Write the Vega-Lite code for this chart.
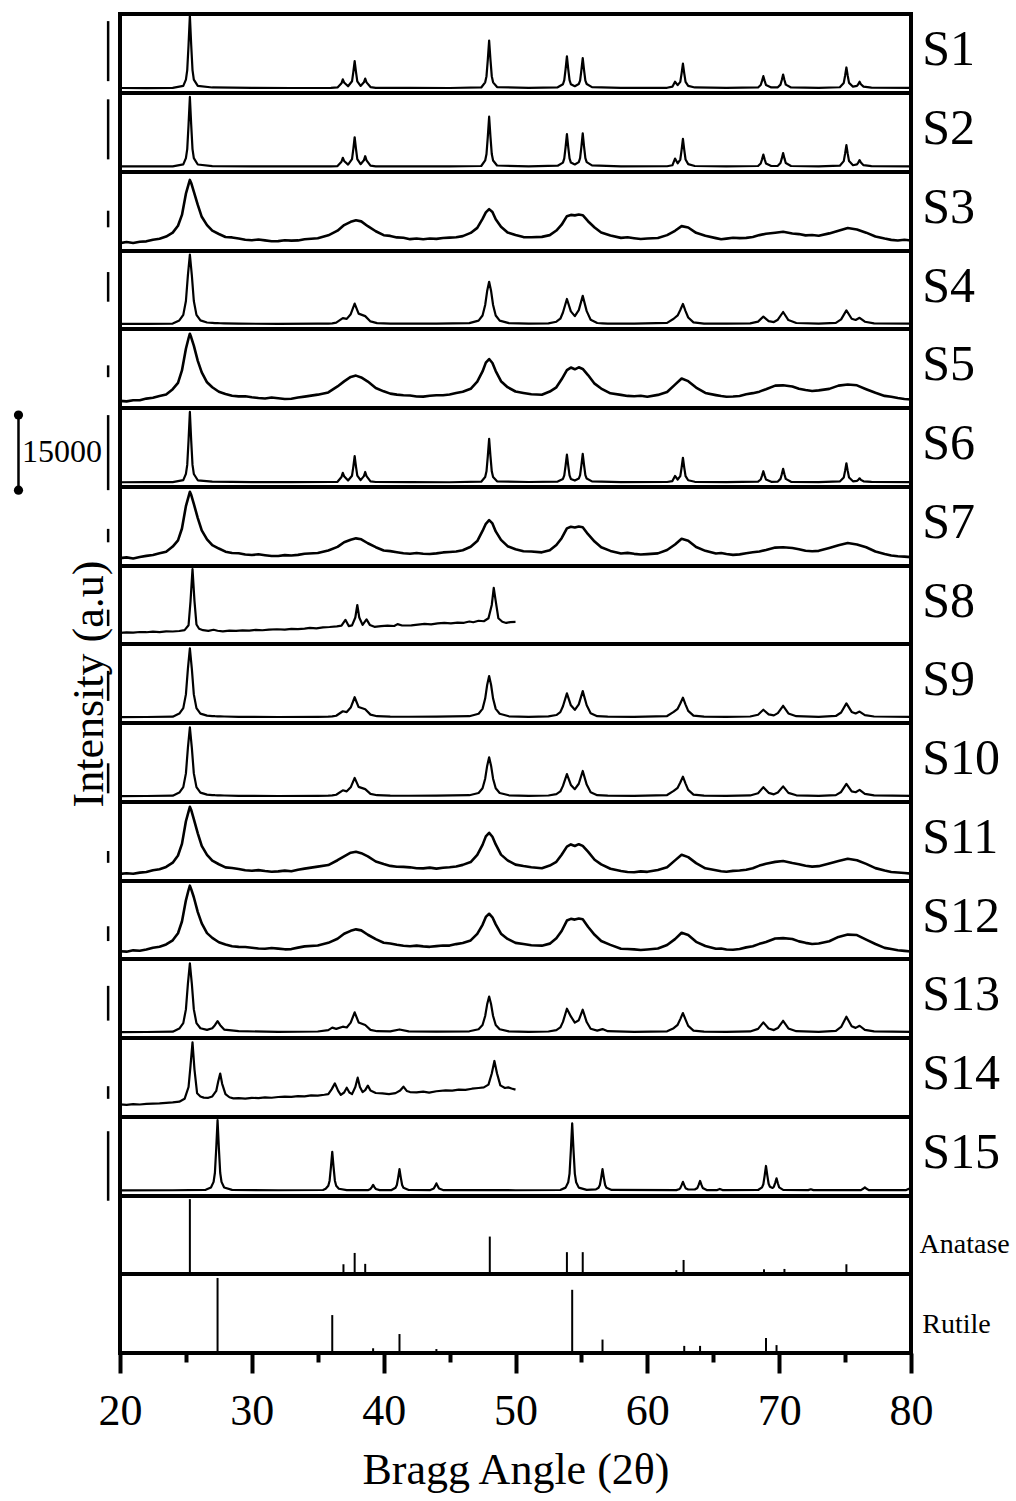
{
  "$schema": "https://vega.github.io/schema/vega-lite/v6.json",
  "padding": {"left": 11, "top": 12, "right": 0, "bottom": 0},
  "bounds": "flush",
  "spacing": 0,
  "datasets": {
    "sharp": [
      {"x":20,"S1":6.3,"S2":7,"S6":6},{"x":22,"S1":6.2,"S2":7.1,"S6":6.1},{"x":24,"S1":6.4,"S2":7.2,"S6":6.2},
      {"x":24.8,"S1":9,"S2":9.6,"S6":8.7},{"x":25.0,"S1":17,"S2":17.6,"S6":16.7},{"x":25.1,"S1":29,"S2":29,"S6":28},
      {"x":25.2,"S1":61,"S2":60,"S6":59},{"x":25.3,"S1":98,"S2":95,"S6":95},{"x":25.4,"S1":61,"S2":60,"S6":59},
      {"x":25.5,"S1":29,"S2":29,"S6":28},{"x":25.6,"S1":17,"S2":17.5,"S6":16.5},{"x":25.9,"S1":9,"S2":9.5,"S6":8.5},
      {"x":27,"S1":7,"S2":7.5,"S6":6.8},{"x":30,"S1":6.5,"S2":7.1,"S6":6.2},{"x":33,"S1":6.3,"S2":7,"S6":6.1},
      {"x":36,"S1":6.5,"S2":7.2,"S6":6.3},{"x":36.5,"S1":7,"S2":7.5,"S6":6.6},{"x":36.8,"S1":12.3,"S2":13,"S6":12.6},
      {"x":36.9,"S1":17.3,"S2":18,"S6":18},{"x":37.0,"S1":13.3,"S2":14,"S6":13.6},{"x":37.3,"S1":8.5,"S2":9.4,"S6":8.2},
      {"x":37.6,"S1":14.8,"S2":16.3,"S6":14.3},{"x":37.7,"S1":26.7,"S2":29.2,"S6":25.8},{"x":37.8,"S1":40.3,"S2":44,"S6":39},
      {"x":37.9,"S1":26.7,"S2":29.2,"S6":25.8},{"x":38.0,"S1":14.8,"S2":16.3,"S6":14.3},{"x":38.25,"S1":9,"S2":9.9,"S6":8.7},
      {"x":38.5,"S1":13.5,"S2":14.8,"S6":13.8},{"x":38.6,"S1":18.3,"S2":20,"S6":19},{"x":38.7,"S1":13.5,"S2":14.8,"S6":13.8},
      {"x":39.0,"S1":7.5,"S2":8,"S6":7.2},{"x":39.4,"S1":6.6,"S2":7.2,"S6":6.3},{"x":42,"S1":6.4,"S2":7,"S6":6.1},
      {"x":45,"S1":6.3,"S2":7,"S6":6},{"x":47.4,"S1":7,"S2":7.6,"S6":6.7},{"x":47.7,"S1":13.5,"S2":14.6,"S6":12.6},
      {"x":47.8,"S1":21.3,"S2":22.8,"S6":19.8},{"x":47.9,"S1":42.3,"S2":44.8,"S6":39},{"x":48.0,"S1":66.3,"S2":70,"S6":61},
      {"x":48.1,"S1":42.3,"S2":44.8,"S6":39},{"x":48.2,"S1":21.3,"S2":22.8,"S6":19.8},{"x":48.3,"S1":13.5,"S2":14.6,"S6":12.6},
      {"x":48.6,"S1":7.5,"S2":8.2,"S6":7.2},{"x":51,"S1":6.5,"S2":7.2,"S6":6.3},{"x":53.2,"S1":7.2,"S2":8,"S6":6.9},
      {"x":53.6,"S1":11.1,"S2":11.9,"S6":10.2},{"x":53.7,"S1":16.3,"S2":17.3,"S6":14.8},{"x":53.8,"S1":30.3,"S2":31.6,"S6":27},
      {"x":53.9,"S1":46.3,"S2":48,"S6":41},{"x":54.0,"S1":30.3,"S2":31.6,"S6":27},{"x":54.1,"S1":16.3,"S2":17.3,"S6":14.8},
      {"x":54.2,"S1":11.1,"S2":11.9,"S6":10.2},{"x":54.5,"S1":8.6,"S2":9.5,"S6":8.2},{"x":54.8,"S1":11.4,"S2":12.5,"S6":10.7},
      {"x":54.9,"S1":15.8,"S2":17.5,"S6":15},{"x":55.0,"S1":29.1,"S2":32.2,"S6":27.6},{"x":55.1,"S1":44.3,"S2":49,"S6":42},
      {"x":55.2,"S1":29.1,"S2":32.2,"S6":27.6},{"x":55.3,"S1":15.8,"S2":17.5,"S6":15},{"x":55.4,"S1":11.4,"S2":12.5,"S6":10.7},
      {"x":55.8,"S1":7.5,"S2":8.3,"S6":7.1},{"x":58,"S1":6.5,"S2":7.2,"S6":6.2},{"x":61.5,"S1":6.6,"S2":7.3,"S6":6.3},
      {"x":61.9,"S1":8,"S2":8.5,"S6":7.5},{"x":62.1,"S1":14.3,"S2":17,"S6":14},{"x":62.3,"S1":10,"S2":11,"S6":9.5},
      {"x":62.5,"S1":14.1,"S2":15.8,"S6":13.8},{"x":62.6,"S1":24.9,"S2":28,"S6":24.6},{"x":62.7,"S1":37.3,"S2":42,"S6":37},
      {"x":62.8,"S1":24.9,"S2":28,"S6":24.6},{"x":62.9,"S1":14.1,"S2":15.8,"S6":13.8},{"x":63.1,"S1":9,"S2":10,"S6":8.5},
      {"x":63.6,"S1":7,"S2":7.6,"S6":6.6},{"x":66,"S1":6.5,"S2":7.2,"S6":6.2},{"x":68.4,"S1":7,"S2":7.6,"S6":6.7},
      {"x":68.6,"S1":10.1,"S2":10.8,"S6":9.5},{"x":68.7,"S1":15.3,"S2":16,"S6":14.4},{"x":68.8,"S1":21.3,"S2":22,"S6":20},
      {"x":68.9,"S1":15.3,"S2":16,"S6":14.4},{"x":69.0,"S1":10.1,"S2":10.8,"S6":9.5},{"x":69.4,"S1":7,"S2":7.6,"S6":6.6},
      {"x":69.9,"S1":7.2,"S2":7.8,"S6":6.9},{"x":70.1,"S1":10.6,"S2":11.3,"S6":10.3},{"x":70.2,"S1":16.5,"S2":17.2,"S6":16.2},
      {"x":70.3,"S1":23.3,"S2":24,"S6":23},{"x":70.4,"S1":16.5,"S2":17.2,"S6":16.2},{"x":70.5,"S1":10.6,"S2":11.3,"S6":10.3},
      {"x":70.9,"S1":7,"S2":7.6,"S6":6.6},{"x":73,"S1":6.5,"S2":7.2,"S6":6.2},{"x":74.6,"S1":7.3,"S2":8,"S6":7},
      {"x":74.9,"S1":12.8,"S2":13.8,"S6":12},{"x":75.0,"S1":21.9,"S2":23.2,"S6":20.4},{"x":75.1,"S1":32.3,"S2":34,"S6":30},
      {"x":75.2,"S1":21.9,"S2":23.2,"S6":20.4},{"x":75.3,"S1":12.8,"S2":13.8,"S6":12},{"x":75.6,"S1":8,"S2":8.6,"S6":7.2},
      {"x":75.9,"S1":9,"S2":9.6,"S6":7.8},{"x":76.0,"S1":11.1,"S2":12,"S6":9},{"x":76.1,"S1":14.3,"S2":15,"S6":11},
      {"x":76.2,"S1":11.1,"S2":12,"S6":9},{"x":76.4,"S1":8,"S2":8.6,"S6":7.2},{"x":77,"S1":6.8,"S2":7.4,"S6":6.4},
      {"x":80,"S1":6.4,"S2":7.1,"S6":6.2}
    ],
    "medium": [
      {"x":20,"S4":6.5,"S9":7.5,"S10":7.5,"S13":7.5},{"x":22,"S4":6.6,"S9":7.6,"S10":7.6,"S13":7.6},
      {"x":24,"S4":7,"S9":8,"S10":8,"S13":8},{"x":24.5,"S4":11,"S9":11.9,"S10":11.9,"S13":11.9},
      {"x":24.8,"S4":18.1,"S9":18.8,"S10":18.8,"S13":18.8},{"x":25.0,"S4":35.9,"S9":36.2,"S10":36.2,"S13":36.2},
      {"x":25.15,"S4":68.8,"S9":68.5,"S10":68.5,"S13":68.5},{"x":25.3,"S4":95.5,"S9":94.5,"S10":94.5,"S13":94.5},
      {"x":25.45,"S4":68.8,"S9":68.5,"S10":68.5,"S13":68.5},{"x":25.6,"S4":35.9,"S9":36.2,"S10":36.2,"S13":36.2},
      {"x":25.8,"S4":18.1,"S9":18.8,"S10":18.8,"S13":18.8},{"x":26.1,"S4":11,"S9":11.9,"S10":11.9,"S13":12.3},
      {"x":26.6,"S4":8.3,"S9":9.3,"S10":9.3,"S13":10.3},{"x":27.0,"S4":7.8,"S9":8.8,"S10":8.8,"S13":12.4},
      {"x":27.2,"S4":7.6,"S9":8.6,"S10":8.6,"S13":16.2},{"x":27.4,"S4":7.5,"S9":8.5,"S10":8.5,"S13":21.3},
      {"x":27.6,"S4":7.4,"S9":8.4,"S10":8.4,"S13":16.2},{"x":27.9,"S4":7.2,"S9":8.2,"S10":8.2,"S13":10.7},
      {"x":29,"S4":6.8,"S9":7.8,"S10":7.8,"S13":8.6},{"x":32,"S4":6.6,"S9":7.6,"S10":7.6,"S13":7.8},
      {"x":35,"S4":6.8,"S9":7.8,"S10":7.8,"S13":8.2},{"x":35.8,"S4":7,"S9":8,"S10":8,"S13":10},
      {"x":36.1,"S4":7.3,"S9":8.3,"S10":8.3,"S13":13.1},{"x":36.4,"S4":8.2,"S9":9.2,"S10":9.2,"S13":11.5},
      {"x":36.9,"S4":14,"S9":14.9,"S10":14.8,"S13":14.3},{"x":37.2,"S4":13,"S9":13.8,"S10":13.5,"S13":13.3},
      {"x":37.5,"S4":19,"S9":19.5,"S10":18.6,"S13":19.4},{"x":37.8,"S4":32.6,"S9":32.6,"S10":30.5,"S13":32.5},
      {"x":38.1,"S4":19.7,"S9":20.2,"S10":19.1,"S13":19.7},{"x":38.6,"S4":16.5,"S9":17.4,"S10":16.3,"S13":16.4},
      {"x":39.0,"S4":9.7,"S9":10.6,"S10":10.3,"S13":10.3},{"x":39.5,"S4":7.6,"S9":8.6,"S10":8.6,"S13":8.6},
      {"x":40.5,"S4":7,"S9":8,"S10":8,"S13":8.3},{"x":41.2,"S4":6.9,"S9":7.9,"S10":7.9,"S13":10.8},
      {"x":41.9,"S4":6.9,"S9":7.9,"S10":7.9,"S13":8.3},{"x":44,"S4":7,"S9":8,"S10":8,"S13":8},
      {"x":46.5,"S4":7.6,"S9":8.6,"S10":8.6,"S13":8.5},{"x":47.2,"S4":10.8,"S9":11.7,"S10":11.4,"S13":11.1},
      {"x":47.5,"S4":17.3,"S9":17.9,"S10":17.3,"S13":16.5},{"x":47.7,"S4":30.8,"S9":30.9,"S10":29.5,"S13":27.8},
      {"x":47.85,"S4":48.6,"S9":48.1,"S10":45.7,"S13":42.6},{"x":48.0,"S4":60.5,"S9":59.5,"S10":56.5,"S13":52.5},
      {"x":48.15,"S4":48.6,"S9":48.1,"S10":45.7,"S13":42.6},{"x":48.3,"S4":30.8,"S9":30.9,"S10":29.5,"S13":27.8},
      {"x":48.5,"S4":17.3,"S9":17.9,"S10":17.3,"S13":16.5},{"x":48.8,"S4":10.8,"S9":11.7,"S10":11.4,"S13":11.1},
      {"x":49.5,"S4":7.5,"S9":8.5,"S10":8.5,"S13":8.4},{"x":51,"S4":6.8,"S9":7.8,"S10":7.8,"S13":7.8},
      {"x":52.5,"S4":7.3,"S9":8.3,"S10":8.2,"S13":8.2},{"x":53.1,"S4":9.3,"S9":10.1,"S10":10,"S13":10},
      {"x":53.4,"S4":13.2,"S9":13.8,"S10":13.4,"S13":13.4},{"x":53.6,"S4":21.2,"S9":21.2,"S10":20.4,"S13":20.4},
      {"x":53.9,"S4":38.5,"S9":37.5,"S10":35.4,"S13":37.1},{"x":54.2,"S4":22.6,"S9":22.4,"S10":21.6,"S13":27.3},
      {"x":54.5,"S4":16.5,"S9":16.7,"S10":16.2,"S13":19.5},{"x":54.8,"S4":24.2,"S9":23.6,"S10":23.1,"S13":22.5},
      {"x":55.1,"S4":42.5,"S9":40.4,"S10":39.3,"S13":35.8},{"x":55.4,"S4":22.9,"S9":22.4,"S10":22,"S13":20.2},
      {"x":55.7,"S4":11.8,"S9":12.3,"S10":12.2,"S13":11.7},{"x":56.2,"S4":7.7,"S9":8.6,"S10":8.6,"S13":9.4},
      {"x":56.6,"S4":7.3,"S9":8.3,"S10":8.3,"S13":11.3},{"x":57,"S4":7,"S9":8,"S10":8,"S13":8.6},
      {"x":59,"S4":6.8,"S9":7.8,"S10":7.8,"S13":7.8},{"x":61.5,"S4":7.9,"S9":8.8,"S10":8.8,"S13":8.5},
      {"x":62.0,"S4":13.1,"S9":14,"S10":14,"S13":12.4},{"x":62.3,"S4":17.4,"S9":18,"S10":18,"S13":16.7},
      {"x":62.5,"S4":24.3,"S9":24.6,"S10":24.6,"S13":23.9},{"x":62.7,"S4":32.1,"S9":32.1,"S10":32.1,"S13":31.6},
      {"x":62.9,"S4":23,"S9":23.3,"S10":23.3,"S13":23.3},{"x":63.1,"S4":14.8,"S9":15.4,"S10":15.4,"S13":15.4},
      {"x":63.5,"S4":8.5,"S9":9.4,"S10":9.4,"S13":9.4},{"x":64.3,"S4":7,"S9":8,"S10":8,"S13":8},
      {"x":66,"S4":6.8,"S9":7.8,"S10":7.8,"S13":7.8},{"x":67.8,"S4":7.2,"S9":8.2,"S10":8.3,"S13":8.3},
      {"x":68.4,"S4":9.5,"S9":10.5,"S10":11.1,"S13":11.5},{"x":68.8,"S4":15.8,"S9":16.8,"S10":18.8,"S13":19.8},
      {"x":69.2,"S4":10,"S9":11,"S10":11.6,"S13":12},{"x":69.6,"S4":8.9,"S9":9.7,"S10":9.7,"S13":10},
      {"x":69.9,"S4":11.9,"S9":12.5,"S10":12,"S13":12.6},{"x":70.3,"S4":21.8,"S9":21.8,"S10":19.8,"S13":21.8},
      {"x":70.7,"S4":11.5,"S9":12.1,"S10":11.5,"S13":12.1},{"x":71.3,"S4":7.7,"S9":8.6,"S10":8.5,"S13":8.6},
      {"x":73,"S4":6.8,"S9":7.8,"S10":7.8,"S13":7.8},{"x":74.3,"S4":7.9,"S9":8.9,"S10":8.7,"S13":9},
      {"x":74.7,"S4":12.3,"S9":13.3,"S10":12.7,"S13":14},{"x":75.1,"S4":23.9,"S9":24.8,"S10":22.9,"S13":26.9},
      {"x":75.5,"S4":13.1,"S9":14,"S10":13.5,"S13":14.8},{"x":75.8,"S4":11.6,"S9":12.1,"S10":12.4,"S13":12.8},
      {"x":76.1,"S4":14.4,"S9":14.4,"S10":15.3,"S13":15.5},{"x":76.5,"S4":9.3,"S9":10,"S10":10.3,"S13":10.3},
      {"x":77.2,"S4":7.2,"S9":8.2,"S10":8.3,"S13":8.3},{"x":80,"S4":6.8,"S9":7.8,"S10":7.8,"S13":7.8}
    ],
    "broad": [
      {"x":20,"S3":10,"S5":9,"S7":10,"S11":9,"S12":10},
      {"x":20.5,"S3":11.3,"S5":8.4,"S7":10.9,"S11":9.9,"S12":9.4},
      {"x":21,"S3":10.2,"S5":9.9,"S7":9.6,"S11":9.2,"S12":11.1},
      {"x":21.5,"S3":11.7,"S5":9.8,"S7":11.5,"S11":10.6,"S12":10.6},
      {"x":22,"S3":12.2,"S5":11.9,"S7":12.8,"S11":11.4,"S12":12.2},
      {"x":22.5,"S3":14.3,"S5":13,"S7":14,"S11":13.6,"S12":14.5},
      {"x":23,"S3":15.4,"S5":15.3,"S7":16.2,"S11":14.8,"S12":15.7},
      {"x":23.5,"S3":18.3,"S5":17.2,"S7":18.1,"S11":17.8,"S12":18.7},
      {"x":24,"S3":23.3,"S5":23.8,"S7":24.6,"S11":23.2,"S12":24},
      {"x":24.4,"S3":31.9,"S5":31.7,"S7":32.4,"S11":32.3,"S12":33},
      {"x":24.7,"S3":45.7,"S5":47.6,"S7":47.5,"S11":47,"S12":48.1},
      {"x":25.0,"S3":72.6,"S5":75,"S7":75.8,"S11":75.6,"S12":75.2},
      {"x":25.2,"S3":84.2,"S5":88.3,"S7":87.8,"S11":87.7,"S12":88.4},
      {"x":25.3,"S3":90,"S5":94,"S7":94,"S11":94,"S12":94},
      {"x":25.4,"S3":86.2,"S5":89.5,"S7":90.1,"S11":90,"S12":89.6},
      {"x":25.6,"S3":75.3,"S5":79,"S7":78.6,"S11":78.4,"S12":79.2},
      {"x":25.9,"S3":58.3,"S5":59.7,"S7":60.7,"S11":60.3,"S12":60.1},
      {"x":26.2,"S3":43.3,"S5":45,"S7":45,"S11":44.4,"S12":45.6},
      {"x":26.6,"S3":32.7,"S5":32.5,"S7":33.8,"S11":33.1,"S12":33.2},
      {"x":27.0,"S3":25.7,"S5":26.3,"S7":26.5,"S11":25.8,"S12":27.1},
      {"x":27.5,"S3":21.5,"S5":20.6,"S7":22.1,"S11":21.2,"S12":21.5},
      {"x":28,"S3":17.7,"S5":17.8,"S7":18.1,"S11":17.2,"S12":18.7},
      {"x":28.5,"S3":17.2,"S5":15.5,"S7":16.4,"S11":16.5,"S12":16.4},
      {"x":29,"S3":15.9,"S5":14.7,"S7":16.2,"S11":15.3,"S12":15.6},
      {"x":29.5,"S3":14.3,"S5":14.9,"S7":14.6,"S11":13.6,"S12":15.3},
      {"x":30,"S3":13.7,"S5":13.6,"S7":13.9,"S11":13,"S12":14.5},
      {"x":30.5,"S3":14.5,"S5":12.6,"S7":14.8,"S11":13.8,"S12":13.4},
      {"x":31,"S3":13.5,"S5":12.1,"S7":13.7,"S11":12.7,"S12":13.1},
      {"x":31.5,"S3":12.4,"S5":13.2,"S7":12.6,"S11":11.8,"S12":14.1},
      {"x":32,"S3":12.5,"S5":12.3,"S7":12.7,"S11":12.2,"S12":13.3},
      {"x":32.5,"S3":13.6,"S5":11.4,"S7":13.8,"S11":13.1,"S12":12.4},
      {"x":33,"S3":13.1,"S5":11.8,"S7":13.3,"S11":12.3,"S12":12.7},
      {"x":33.5,"S3":13.4,"S5":13.3,"S7":14.1,"S11":14.2,"S12":14.6},
      {"x":34,"S3":14.9,"S5":14.4,"S7":15.6,"S11":15.7,"S12":16.2},
      {"x":35,"S3":16.1,"S5":16.9,"S7":16.4,"S11":18.2,"S12":17.3},
      {"x":35.8,"S3":19.8,"S5":19.7,"S7":19.6,"S11":20.2,"S12":20.7},
      {"x":36.5,"S3":25.7,"S5":27.3,"S7":24.2,"S11":26.3,"S12":26},
      {"x":37.0,"S3":32.8,"S5":33.7,"S7":30.1,"S11":31.2,"S12":32.4},
      {"x":37.5,"S3":36.9,"S5":39.3,"S7":33.2,"S11":35.8,"S12":36.1},
      {"x":37.9,"S3":39,"S5":41,"S7":35,"S11":37,"S12":38},
      {"x":38.3,"S3":37.5,"S5":38.7,"S7":33.8,"S11":35.2,"S12":36.7},
      {"x":38.8,"S3":31.4,"S5":33.5,"S7":28.8,"S11":31.1,"S12":31.1},
      {"x":39.4,"S3":25,"S5":25.3,"S7":23.8,"S11":24.7,"S12":25.4},
      {"x":40,"S3":20,"S5":21.1,"S7":19.6,"S11":21.5,"S12":20.8},
      {"x":40.5,"S3":19.1,"S5":18.2,"S7":18.8,"S11":19.1,"S12":19.9},
      {"x":41,"S3":17.2,"S5":16.9,"S7":17.5,"S11":18,"S12":18.3},
      {"x":41.5,"S3":16.8,"S5":16.1,"S7":16.1,"S11":17.9,"S12":16.9},
      {"x":42,"S3":15,"S5":15.8,"S7":15.6,"S11":17.3,"S12":16.3},
      {"x":42.5,"S3":15.9,"S5":14.6,"S7":16.4,"S11":16.1,"S12":17.1},
      {"x":43,"S3":14.9,"S5":14.4,"S7":15.6,"S11":16,"S12":16.2},
      {"x":43.5,"S3":15.8,"S5":15.5,"S7":15.1,"S11":16.9,"S12":15.6},
      {"x":44,"S3":15.3,"S5":16.2,"S7":16,"S11":15.7,"S12":16.5},
      {"x":44.5,"S3":16.4,"S5":16.1,"S7":17.2,"S11":16.8,"S12":17.3},
      {"x":45,"S3":16.9,"S5":17.1,"S7":17.8,"S11":17.5,"S12":17.2},
      {"x":45.5,"S3":17.4,"S5":18.9,"S7":18.3,"S11":18.4,"S12":19.1},
      {"x":46,"S3":18.8,"S5":20.5,"S7":20,"S11":20.4,"S12":20.5},
      {"x":46.6,"S3":22.9,"S5":24.3,"S7":24.4,"S11":24,"S12":23.8},
      {"x":47.1,"S3":29.3,"S5":33.5,"S7":31.6,"S11":33.1,"S12":32.2},
      {"x":47.5,"S3":40.7,"S5":46.3,"S7":44.4,"S11":45.7,"S12":43.8},
      {"x":47.75,"S3":48.8,"S5":57.4,"S7":53.4,"S11":56.5,"S12":54},
      {"x":48.0,"S3":53,"S5":62,"S7":58,"S11":61,"S12":58},
      {"x":48.25,"S3":49.3,"S5":56.9,"S7":53.9,"S11":56,"S12":53.5},
      {"x":48.5,"S3":40.2,"S5":46.8,"S7":43.8,"S11":46.3,"S12":44.4},
      {"x":48.9,"S3":30.7,"S5":33.9,"S7":33.1,"S11":33.4,"S12":32.5},
      {"x":49.4,"S3":23.5,"S5":26.3,"S7":25.1,"S11":26.1,"S12":25.7},
      {"x":50,"S3":20.2,"S5":20.9,"S7":21.3,"S11":20.7,"S12":20.7},
      {"x":50.6,"S3":17.6,"S5":19.1,"S7":18.6,"S11":18.9,"S12":19.2},
      {"x":51.2,"S3":17.4,"S5":17.5,"S7":18.3,"S11":17.5,"S12":17.7},
      {"x":52,"S3":17.9,"S5":16.8,"S7":17.3,"S11":16.1,"S12":17.1},
      {"x":52.6,"S3":20.1,"S5":20.8,"S7":20,"S11":19.6,"S12":19.7},
      {"x":53.1,"S3":25.9,"S5":26.2,"S7":26.5,"S11":24.3,"S12":26.6},
      {"x":53.5,"S3":33.3,"S5":36.3,"S7":35.2,"S11":33.3,"S12":35.9},
      {"x":53.9,"S3":44.1,"S5":47.9,"S7":47.6,"S11":43.5,"S12":49.3},
      {"x":54.2,"S3":45.7,"S5":51.2,"S7":49.6,"S11":46.3,"S12":51.5},
      {"x":54.5,"S3":45.1,"S5":49,"S7":48.7,"S11":44.3,"S12":50.5},
      {"x":54.8,"S3":46.1,"S5":51.5,"S7":50,"S11":46.6,"S12":51.9},
      {"x":55.1,"S3":45.3,"S5":49.4,"S7":49.1,"S11":44.4,"S12":50.9},
      {"x":55.5,"S3":37.7,"S5":41.7,"S7":40.3,"S11":37.1,"S12":41.4},
      {"x":56,"S3":29.7,"S5":30.8,"S7":31,"S11":26.9,"S12":31},
      {"x":56.5,"S3":23.3,"S5":24.6,"S7":23.7,"S11":21.1,"S12":23.1},
      {"x":57.2,"S3":19.5,"S5":18.6,"S7":19.1,"S11":15.5,"S12":18.1},
      {"x":58,"S3":16.6,"S5":16.6,"S7":15.9,"S11":12.7,"S12":13.2},
      {"x":58.5,"S3":17.4,"S5":15.3,"S7":16.6,"S11":11.4,"S12":12.9},
      {"x":59,"S3":16.2,"S5":14.8,"S7":15.4,"S11":11.1,"S12":12.3},
      {"x":59.5,"S3":15.1,"S5":15.6,"S7":14.5,"S11":12.2,"S12":11.6},
      {"x":60,"S3":15.8,"S5":14.2,"S7":15,"S11":11.6,"S12":12.2},
      {"x":60.8,"S3":16.5,"S5":16.6,"S7":16,"S11":13.9,"S12":13.4},
      {"x":61.5,"S3":20.1,"S5":20.2,"S7":20.3,"S11":17.3,"S12":17.9},
      {"x":62.1,"S3":25.6,"S5":29.6,"S7":27.2,"S11":26.1,"S12":25.5},
      {"x":62.6,"S3":31.5,"S5":37.3,"S7":34.4,"S11":33.3,"S12":33.6},
      {"x":63.1,"S3":29.7,"S5":34,"S7":32.1,"S11":30.2,"S12":30.8},
      {"x":63.7,"S3":23,"S5":25.8,"S7":24,"S11":22.6,"S12":22},
      {"x":64.4,"S3":19.2,"S5":19,"S7":19.2,"S11":16.1,"S12":16.7},
      {"x":65.2,"S3":16.3,"S5":16.3,"S7":15.8,"S11":13.6,"S12":13.1},
      {"x":65.6,"S3":14.8,"S5":15.1,"S7":16.4,"S11":12.4,"S12":13.4},
      {"x":66,"S3":15.7,"S5":14.3,"S7":15.1,"S11":11.7,"S12":12.2},
      {"x":66.5,"S3":16.8,"S5":14.6,"S7":14.1,"S11":12.8,"S12":11.9},
      {"x":67,"S3":16.3,"S5":15.2,"S7":14.7,"S11":13.3,"S12":12.8},
      {"x":67.5,"S3":16.6,"S5":17.3,"S7":16.2,"S11":14.3,"S12":14.9},
      {"x":68,"S3":17.7,"S5":18.8,"S7":17.3,"S11":16.2,"S12":16.3},
      {"x":68.5,"S3":20.1,"S5":20.7,"S7":18.4,"S11":19.5,"S12":19.4},
      {"x":69,"S3":21.8,"S5":23.7,"S7":20.3,"S11":21.8,"S12":21.7},
      {"x":69.7,"S3":23.2,"S5":28.3,"S7":23.3,"S11":24.2,"S12":26.3},
      {"x":70.3,"S3":24.3,"S5":28.7,"S7":23.8,"S11":25.3,"S12":26.8},
      {"x":71,"S3":22.2,"S5":27.3,"S7":22.7,"S11":22.7,"S12":25.7},
      {"x":71.5,"S3":21.4,"S5":24.4,"S7":21.3,"S11":21.3,"S12":22.6},
      {"x":72,"S3":19.8,"S5":22.7,"S7":19.3,"S11":19.2,"S12":20.7},
      {"x":72.5,"S3":20.2,"S5":21.6,"S7":18.6,"S11":18.2,"S12":19.3},
      {"x":73,"S3":19.3,"S5":22.3,"S7":19.2,"S11":18.8,"S12":19.8},
      {"x":73.8,"S3":22.3,"S5":24.2,"S7":22.8,"S11":22.3,"S12":22.7},
      {"x":74.5,"S3":25.7,"S5":28.3,"S7":26.2,"S11":25.3,"S12":28.3},
      {"x":75.2,"S3":29.2,"S5":29.8,"S7":29.2,"S11":28.2,"S12":31.3},
      {"x":75.9,"S3":27.3,"S5":28.7,"S7":27.3,"S11":26.3,"S12":30.7},
      {"x":76.6,"S3":23.2,"S5":23.8,"S7":23.7,"S11":21.7,"S12":24.8},
      {"x":77.3,"S3":18.3,"S5":19.2,"S7":18.3,"S11":16.3,"S12":19.2},
      {"x":78,"S3":15.7,"S5":15.3,"S7":15.2,"S11":13.2,"S12":14.3},
      {"x":78.5,"S3":14.1,"S5":14.2,"S7":13.3,"S11":11.4,"S12":12.8},
      {"x":79,"S3":13.3,"S5":12.7,"S7":12.3,"S11":10.7,"S12":11.2},
      {"x":79.5,"S3":14.2,"S5":11.4,"S7":11.9,"S11":10.1,"S12":10.4},
      {"x":80,"S3":13.2,"S5":10.8,"S7":11.2,"S11":9.3,"S12":9.7}
    ],
    "s8": [
      {"x":20,"y":14.3},{"x":20.5,"y":14.8},{"x":21,"y":14.5},{"x":21.5,"y":15.4},{"x":22,"y":15.1},{"x":22.5,"y":15.8},
      {"x":23,"y":15.3},{"x":23.5,"y":16.2},{"x":24,"y":16},{"x":24.5,"y":16.7},{"x":24.9,"y":17.8},{"x":25.2,"y":24},
      {"x":25.35,"y":55},{"x":25.5,"y":96},{"x":25.65,"y":55},{"x":25.8,"y":25},{"x":26.0,"y":19.5},{"x":26.3,"y":17.7},
      {"x":26.7,"y":16.8},{"x":27.1,"y":18.3},{"x":27.4,"y":17},{"x":27.8,"y":16.3},{"x":28.3,"y":17.2},{"x":28.8,"y":16.8},
      {"x":29.3,"y":17.4},{"x":29.8,"y":17.1},{"x":30.3,"y":18},{"x":30.8,"y":17.6},{"x":31.3,"y":18.5},{"x":31.9,"y":18.9},
      {"x":32.5,"y":18.4},{"x":33,"y":19.3},{"x":33.5,"y":19},{"x":34,"y":19.8},{"x":34.4,"y":20.6},{"x":34.9,"y":20.1},
      {"x":35.4,"y":21.2},{"x":35.9,"y":21.8},{"x":36.45,"y":22.7},{"x":36.8,"y":23.5},{"x":37.1,"y":31},{"x":37.35,"y":23},
      {"x":37.6,"y":23.8},{"x":37.85,"y":34},{"x":38.0,"y":50},{"x":38.15,"y":34},{"x":38.4,"y":24.5},{"x":38.7,"y":31.5},
      {"x":38.95,"y":24.5},{"x":39.3,"y":22},{"x":39.8,"y":22.8},{"x":40.3,"y":23.5},{"x":40.8,"y":23.1},{"x":41.05,"y":25.5},
      {"x":41.4,"y":23.7},{"x":42.1,"y":24},{"x":42.6,"y":24.8},{"x":43.1,"y":25.7},{"x":43.6,"y":25.2},{"x":44.1,"y":26.4},
      {"x":44.6,"y":27},{"x":45.1,"y":26.4},{"x":45.6,"y":27.5},{"x":46.1,"y":27.2},{"x":46.5,"y":28.8},{"x":46.8,"y":27.9},
      {"x":47.2,"y":29.8},{"x":47.6,"y":29.2},{"x":47.95,"y":33},{"x":48.2,"y":50},{"x":48.35,"y":72},{"x":48.5,"y":55},
      {"x":48.7,"y":33},{"x":49.0,"y":28.5},{"x":49.3,"y":27},{"x":49.6,"y":28.1},{"x":50.0,"y":28.3}
    ],
    "s14": [
      {"x":20,"y":16},{"x":20.5,"y":15.3},{"x":21,"y":16.4},{"x":21.5,"y":15.8},{"x":22,"y":16.5},{"x":22.5,"y":16.9},
      {"x":23,"y":17.3},{"x":23.5,"y":17.9},{"x":24,"y":18.5},{"x":24.5,"y":19.4},{"x":24.9,"y":23},{"x":25.2,"y":38},
      {"x":25.35,"y":65},{"x":25.5,"y":94.5},{"x":25.65,"y":60},{"x":25.85,"y":30},{"x":26.1,"y":26},{"x":26.35,"y":24.5},
      {"x":26.7,"y":24.3},{"x":27.0,"y":26},{"x":27.3,"y":33},{"x":27.45,"y":45},{"x":27.6,"y":55},{"x":27.75,"y":42},
      {"x":28.0,"y":29},{"x":28.3,"y":25},{"x":28.6,"y":23.6},{"x":29,"y":23.8},{"x":29.5,"y":23.2},{"x":30,"y":24.3},
      {"x":30.5,"y":23.9},{"x":31,"y":24.8},{"x":31.5,"y":24.4},{"x":32,"y":25.3},{"x":32.5,"y":25.8},{"x":33,"y":25.4},
      {"x":33.5,"y":26.5},{"x":34,"y":26.2},{"x":34.5,"y":27.4},{"x":35,"y":27.1},{"x":35.5,"y":28.2},{"x":35.8,"y":29},
      {"x":36.05,"y":35},{"x":36.3,"y":42.6},{"x":36.55,"y":33},{"x":36.75,"y":28},{"x":37.0,"y":31},{"x":37.2,"y":37.1},
      {"x":37.4,"y":31},{"x":37.6,"y":29},{"x":37.85,"y":38},{"x":38.03,"y":49.8},{"x":38.2,"y":38},{"x":38.4,"y":31.6},
      {"x":38.6,"y":34},{"x":38.8,"y":39.7},{"x":39.0,"y":33.5},{"x":39.4,"y":30.4},{"x":39.9,"y":30},{"x":40.4,"y":29},
      {"x":40.9,"y":30.2},{"x":41.25,"y":33.5},{"x":41.5,"y":38.4},{"x":41.75,"y":33},{"x":42,"y":31.6},{"x":42.5,"y":31.2},
      {"x":43,"y":32.1},{"x":43.45,"y":30.8},{"x":44,"y":32.6},{"x":44.7,"y":33.8},{"x":45.2,"y":33.4},{"x":45.7,"y":34.7},
      {"x":46.2,"y":34.3},{"x":46.7,"y":35.8},{"x":47.2,"y":36.7},{"x":47.6,"y":37.5},{"x":47.95,"y":41},{"x":48.2,"y":55},
      {"x":48.4,"y":70.9},{"x":48.6,"y":55},{"x":48.85,"y":40},{"x":49.2,"y":36.7},{"x":49.45,"y":37.5},{"x":49.7,"y":36},
      {"x":50.0,"y":34.6}
    ],
    "s15": [
      {"x":20,"y":7.2},{"x":24,"y":7.3},{"x":26.5,"y":7.8},{"x":26.9,"y":10.8},{"x":27.1,"y":17.9},{"x":27.2,"y":29.4},
      {"x":27.3,"y":60.5},{"x":27.4,"y":96},{"x":27.5,"y":60.5},{"x":27.6,"y":29.4},{"x":27.7,"y":17.9},{"x":27.9,"y":10.8},
      {"x":28.5,"y":7.8},{"x":32,"y":7.3},{"x":35.4,"y":7.6},{"x":35.6,"y":9.2},{"x":35.8,"y":13},{"x":35.9,"y":19.4},
      {"x":36.0,"y":36.5},{"x":36.1,"y":56},{"x":36.2,"y":36.5},{"x":36.3,"y":19.4},{"x":36.4,"y":13},{"x":36.6,"y":9.2},
      {"x":37.2,"y":7.5},{"x":38.8,"y":7.4},{"x":39.0,"y":8.9},{"x":39.1,"y":11.3},{"x":39.2,"y":14},{"x":39.3,"y":11.3},
      {"x":39.4,"y":8.9},{"x":39.7,"y":7.5},{"x":40.6,"y":7.5},{"x":40.9,"y":10.4},{"x":41.0,"y":13.9},{"x":41.1,"y":23.3},
      {"x":41.2,"y":34},{"x":41.3,"y":23.3},{"x":41.4,"y":13.9},{"x":41.5,"y":10.4},{"x":41.9,"y":7.6},{"x":43.5,"y":7.4},
      {"x":43.8,"y":9.4},{"x":43.9,"y":12.5},{"x":44.0,"y":16},{"x":44.1,"y":12.5},{"x":44.2,"y":9.4},{"x":44.5,"y":7.5},
      {"x":50,"y":7.3},{"x":53.4,"y":7.6},{"x":53.8,"y":10.6},{"x":54.0,"y":17.4},{"x":54.1,"y":28.4},{"x":54.2,"y":58.1},
      {"x":54.3,"y":92},{"x":54.4,"y":58.1},{"x":54.5,"y":28.4},{"x":54.6,"y":17.4},{"x":54.8,"y":10.6},{"x":55.4,"y":7.8},
      {"x":56.1,"y":8.3},{"x":56.3,"y":10.4},{"x":56.4,"y":13.9},{"x":56.5,"y":23.3},{"x":56.6,"y":34},{"x":56.7,"y":23.3},
      {"x":56.8,"y":13.9},{"x":56.9,"y":10.4},{"x":57.3,"y":7.7},{"x":62.2,"y":7.4},{"x":62.4,"y":8.5},{"x":62.5,"y":9.9},
      {"x":62.6,"y":13.7},{"x":62.7,"y":18},{"x":62.8,"y":13.7},{"x":62.9,"y":9.9},{"x":63.1,"y":8.2},{"x":63.6,"y":8.2},
      {"x":63.8,"y":10.2},{"x":63.9,"y":14.3},{"x":64.0,"y":19},{"x":64.1,"y":14.3},{"x":64.2,"y":10.2},{"x":64.5,"y":7.5},
      {"x":65.3,"y":7.5},{"x":65.5,"y":9},{"x":65.7,"y":7.5},{"x":68.4,"y":7.6},{"x":68.7,"y":11},{"x":68.8,"y":14.9},
      {"x":68.9,"y":25.7},{"x":69.0,"y":38},{"x":69.1,"y":26.2},{"x":69.2,"y":15.5},{"x":69.3,"y":11.8},{"x":69.5,"y":10.2},
      {"x":69.6,"y":11.8},{"x":69.7,"y":16.7},{"x":69.8,"y":22.3},{"x":69.9,"y":16.1},{"x":70.0,"y":10.9},{"x":70.3,"y":7.8},
      {"x":72.2,"y":7.4},{"x":72.4,"y":8.5},{"x":72.6,"y":7.4},{"x":76.2,"y":7.4},{"x":76.4,"y":9.5},{"x":76.5,"y":11},
      {"x":76.6,"y":9.5},{"x":76.8,"y":7.4},{"x":79.6,"y":7.4},{"x":79.8,"y":9},{"x":80,"y":7.8}
    ],
    "anatase": [
      {"x":25.3,"i":96},{"x":36.95,"i":12.5},{"x":37.8,"i":27},{"x":38.6,"i":13},{"x":48.05,"i":48},{"x":53.9,"i":28},
      {"x":55.1,"i":28},{"x":62.2,"i":5},{"x":62.75,"i":18},{"x":68.85,"i":6},{"x":70.4,"i":6.5},{"x":75.1,"i":12.5}
    ],
    "rutile": [
      {"x":27.4,"i":95},{"x":36.1,"i":48},{"x":39.2,"i":6},{"x":41.2,"i":24},{"x":44.0,"i":5},{"x":54.3,"i":80},
      {"x":56.6,"i":17},{"x":62.8,"i":9},{"x":64.0,"i":9},{"x":65.5,"i":2},{"x":69.0,"i":19},{"x":69.8,"i":10}
    ],
    "bars": [
      {"p":"S1","lo":15,"hi":91},{"p":"S2","lo":16,"hi":92},{"p":"S3","lo":30,"hi":51},{"p":"S4","lo":35,"hi":73},
      {"p":"S5","lo":39,"hi":54},{"p":"S6","lo":-4,"hi":91},{"p":"S7","lo":30,"hi":47},{"p":"S8","lo":23,"hi":44},
      {"p":"S9","lo":28,"hi":66},{"p":"S10","lo":11,"hi":49},{"p":"S11","lo":23,"hi":38},{"p":"S12","lo":23,"hi":42},
      {"p":"S13","lo":22,"hi":66},{"p":"S14","lo":23,"hi":39},{"p":"S15","lo":-6,"hi":82}
    ],
    "labels": [
      {"p":"S1"},{"p":"S2"},{"p":"S3"},{"p":"S4"},{"p":"S5"},{"p":"S6"},{"p":"S7"},{"p":"S8"},{"p":"S9"},
      {"p":"S10"},{"p":"S11"},{"p":"S12"},{"p":"S13"},{"p":"S14"},{"p":"S15"},{"p":"Anatase"},{"p":"Rutile"}
    ],
    "scalebar": [{"lo":-4,"hi":91,"counts":15000}]
  },
  "vconcat": [
    {"layer":[
      {"data":{"name":"sharp"},"mark":"line","encoding":{"x":{"field":"x","type":"quantitative","scale":{"domain":[20,80],"nice":false},"axis":null},"y":{"field":"S1","type":"quantitative","scale":{"domain":[0,100]},"axis":null}}},
      {"data":{"name":"bars"},"transform":[{"filter":"datum.p==='S1'"},{"fold":["lo","hi"],"as":["end","v"]}],"mark":{"type":"line","strokeWidth":2.5},
       "encoding":{"x":{"datum":19.1,"type":"quantitative","scale":{"domain":[20,80],"nice":false},"axis":null},"y":{"field":"v","type":"quantitative","scale":{"domain":[0,100]},"axis":null}}},
      {"data":{"name":"labels"},"transform":[{"filter":"datum.p==='S1'"}],"mark":{"type":"text"},
       "encoding":{"x":{"datum":80.85,"type":"quantitative","scale":{"domain":[20,80],"nice":false},"axis":null},"y":{"datum":54,"type":"quantitative","scale":{"domain":[0,100]},"axis":null},"text":{"field":"p"}}}
     ]},
    {"layer":[
      {"data":{"name":"sharp"},"mark":"line","encoding":{"x":{"field":"x","type":"quantitative","scale":{"domain":[20,80],"nice":false},"axis":null},"y":{"field":"S2","type":"quantitative","scale":{"domain":[0,100]},"axis":null}}},
      {"data":{"name":"bars"},"transform":[{"filter":"datum.p==='S2'"},{"fold":["lo","hi"],"as":["end","v"]}],"mark":{"type":"line","strokeWidth":2.5},
       "encoding":{"x":{"datum":19.1,"type":"quantitative","scale":{"domain":[20,80],"nice":false},"axis":null},"y":{"field":"v","type":"quantitative","scale":{"domain":[0,100]},"axis":null}}},
      {"data":{"name":"labels"},"transform":[{"filter":"datum.p==='S2'"}],"mark":{"type":"text"},
       "encoding":{"x":{"datum":80.85,"type":"quantitative","scale":{"domain":[20,80],"nice":false},"axis":null},"y":{"datum":54,"type":"quantitative","scale":{"domain":[0,100]},"axis":null},"text":{"field":"p"}}}
     ]},
    {"layer":[
      {"data":{"name":"broad"},"mark":{"type":"line","strokeWidth":2.6},"encoding":{"x":{"field":"x","type":"quantitative","scale":{"domain":[20,80],"nice":false},"axis":null},"y":{"field":"S3","type":"quantitative","scale":{"domain":[0,100]},"axis":null}}},
      {"data":{"name":"bars"},"transform":[{"filter":"datum.p==='S3'"},{"fold":["lo","hi"],"as":["end","v"]}],"mark":{"type":"line","strokeWidth":2.5},
       "encoding":{"x":{"datum":19.1,"type":"quantitative","scale":{"domain":[20,80],"nice":false},"axis":null},"y":{"field":"v","type":"quantitative","scale":{"domain":[0,100]},"axis":null}}},
      {"data":{"name":"labels"},"transform":[{"filter":"datum.p==='S3'"}],"mark":{"type":"text"},
       "encoding":{"x":{"datum":80.85,"type":"quantitative","scale":{"domain":[20,80],"nice":false},"axis":null},"y":{"datum":54,"type":"quantitative","scale":{"domain":[0,100]},"axis":null},"text":{"field":"p"}}}
     ]},
    {"height":78,
     "layer":[
      {"data":{"name":"medium"},"mark":"line","encoding":{"x":{"field":"x","type":"quantitative","scale":{"domain":[20,80],"nice":false},"axis":null},"y":{"field":"S4","type":"quantitative","scale":{"domain":[0,100]},"axis":null}}},
      {"data":{"name":"bars"},"transform":[{"filter":"datum.p==='S4'"},{"fold":["lo","hi"],"as":["end","v"]}],"mark":{"type":"line","strokeWidth":2.5},
       "encoding":{"x":{"datum":19.1,"type":"quantitative","scale":{"domain":[20,80],"nice":false},"axis":null},"y":{"field":"v","type":"quantitative","scale":{"domain":[0,100]},"axis":null}}},
      {"data":{"name":"labels"},"transform":[{"filter":"datum.p==='S4'"}],"mark":{"type":"text"},
       "encoding":{"x":{"datum":80.85,"type":"quantitative","scale":{"domain":[20,80],"nice":false},"axis":null},"y":{"datum":54,"type":"quantitative","scale":{"domain":[0,100]},"axis":null},"text":{"field":"p"}}}
     ]},
    {"layer":[
      {"data":{"name":"broad"},"mark":{"type":"line","strokeWidth":2.6},"encoding":{"x":{"field":"x","type":"quantitative","scale":{"domain":[20,80],"nice":false},"axis":null},"y":{"field":"S5","type":"quantitative","scale":{"domain":[0,100]},"axis":null}}},
      {"data":{"name":"bars"},"transform":[{"filter":"datum.p==='S5'"},{"fold":["lo","hi"],"as":["end","v"]}],"mark":{"type":"line","strokeWidth":2.5},
       "encoding":{"x":{"datum":19.1,"type":"quantitative","scale":{"domain":[20,80],"nice":false},"axis":null},"y":{"field":"v","type":"quantitative","scale":{"domain":[0,100]},"axis":null}}},
      {"data":{"name":"labels"},"transform":[{"filter":"datum.p==='S5'"}],"mark":{"type":"text"},
       "encoding":{"x":{"datum":80.85,"type":"quantitative","scale":{"domain":[20,80],"nice":false},"axis":null},"y":{"datum":54,"type":"quantitative","scale":{"domain":[0,100]},"axis":null},"text":{"field":"p"}}}
     ]},
    {"layer":[
      {"data":{"name":"sharp"},"mark":"line","encoding":{"x":{"field":"x","type":"quantitative","scale":{"domain":[20,80],"nice":false},"axis":null},"y":{"field":"S6","type":"quantitative","scale":{"domain":[0,100]},"axis":null}}},
      {"data":{"name":"bars"},"transform":[{"filter":"datum.p==='S6'"},{"fold":["lo","hi"],"as":["end","v"]}],"mark":{"type":"line","strokeWidth":2.5},
       "encoding":{"x":{"datum":19.1,"type":"quantitative","scale":{"domain":[20,80],"nice":false},"axis":null},"y":{"field":"v","type":"quantitative","scale":{"domain":[0,100]},"axis":null}}},
      {"data":{"name":"labels"},"transform":[{"filter":"datum.p==='S6'"}],"mark":{"type":"text"},
       "encoding":{"x":{"datum":80.85,"type":"quantitative","scale":{"domain":[20,80],"nice":false},"axis":null},"y":{"datum":54,"type":"quantitative","scale":{"domain":[0,100]},"axis":null},"text":{"field":"p"}}},
      {"data":{"name":"scalebar"},"transform":[{"fold":["lo","hi"],"as":["end","v"]}],"mark":{"type":"line","strokeWidth":2.5},
       "encoding":{"x":{"datum":12.3,"type":"quantitative","scale":{"domain":[20,80],"nice":false},"axis":null},"y":{"field":"v","type":"quantitative","scale":{"domain":[0,100]},"axis":null}}},
      {"data":{"name":"scalebar"},"transform":[{"fold":["lo","hi"],"as":["end","v"]}],"mark":{"type":"point","filled":true,"size":85,"opacity":1},
       "encoding":{"x":{"datum":12.3,"type":"quantitative","scale":{"domain":[20,80],"nice":false},"axis":null},"y":{"field":"v","type":"quantitative","scale":{"domain":[0,100]},"axis":null}}},
      {"data":{"name":"scalebar"},"mark":{"type":"text","fontSize":32,"align":"center"},
       "encoding":{"x":{"datum":15.6,"type":"quantitative","scale":{"domain":[20,80],"nice":false},"axis":null},"y":{"datum":44,"type":"quantitative","scale":{"domain":[0,100]},"axis":null},"text":{"field":"counts","type":"quantitative","format":"d"}}}
     ]},
    {"layer":[
      {"data":{"name":"broad"},"mark":{"type":"line","strokeWidth":2.6},"encoding":{"x":{"field":"x","type":"quantitative","scale":{"domain":[20,80],"nice":false},"axis":null},"y":{"field":"S7","type":"quantitative","scale":{"domain":[0,100]},"axis":null}}},
      {"data":{"name":"bars"},"transform":[{"filter":"datum.p==='S7'"},{"fold":["lo","hi"],"as":["end","v"]}],"mark":{"type":"line","strokeWidth":2.5},
       "encoding":{"x":{"datum":19.1,"type":"quantitative","scale":{"domain":[20,80],"nice":false},"axis":null},"y":{"field":"v","type":"quantitative","scale":{"domain":[0,100]},"axis":null}}},
      {"data":{"name":"labels"},"transform":[{"filter":"datum.p==='S7'"}],"mark":{"type":"text"},
       "encoding":{"x":{"datum":80.85,"type":"quantitative","scale":{"domain":[20,80],"nice":false},"axis":null},"y":{"datum":54,"type":"quantitative","scale":{"domain":[0,100]},"axis":null},"text":{"field":"p"}}}
     ]},
    {"height":78,
     "layer":[
      {"data":{"name":"s8"},"mark":"line","encoding":{"x":{"field":"x","type":"quantitative","scale":{"domain":[20,80],"nice":false},"axis":null},"y":{"field":"y","type":"quantitative","scale":{"domain":[0,100]},"axis":null}}},
      {"data":{"name":"bars"},"transform":[{"filter":"datum.p==='S8'"},{"fold":["lo","hi"],"as":["end","v"]}],"mark":{"type":"line","strokeWidth":2.5},
       "encoding":{"x":{"datum":19.1,"type":"quantitative","scale":{"domain":[20,80],"nice":false},"axis":null},"y":{"field":"v","type":"quantitative","scale":{"domain":[0,100]},"axis":null}}},
      {"data":{"name":"labels"},"transform":[{"filter":"datum.p==='S8'"}],"mark":{"type":"text"},
       "encoding":{"x":{"datum":80.85,"type":"quantitative","scale":{"domain":[20,80],"nice":false},"axis":null},"y":{"datum":54,"type":"quantitative","scale":{"domain":[0,100]},"axis":null},"text":{"field":"p"}}}
     ]},
    {"resolve":{"axis":{"y":"independent"}},
     "layer":[
      {"data":{"name":"medium"},"mark":"line","encoding":{"x":{"field":"x","type":"quantitative","scale":{"domain":[20,80],"nice":false},"axis":null},"y":{"field":"S9","type":"quantitative","scale":{"domain":[0,100]},
        "axis":{"title":"Intensity (a.u)","domain":false,"ticks":false,"labels":false,"grid":false,"titlePadding":9}}}},
      {"data":{"name":"bars"},"transform":[{"filter":"datum.p==='S9'"},{"fold":["lo","hi"],"as":["end","v"]}],"mark":{"type":"line","strokeWidth":2.5},
       "encoding":{"x":{"datum":19.1,"type":"quantitative","scale":{"domain":[20,80],"nice":false},"axis":null},"y":{"field":"v","type":"quantitative","scale":{"domain":[0,100]},"axis":null}}},
      {"data":{"name":"labels"},"transform":[{"filter":"datum.p==='S9'"}],"mark":{"type":"text"},
       "encoding":{"x":{"datum":80.85,"type":"quantitative","scale":{"domain":[20,80],"nice":false},"axis":null},"y":{"datum":54,"type":"quantitative","scale":{"domain":[0,100]},"axis":null},"text":{"field":"p"}}}
     ]},
    {"layer":[
      {"data":{"name":"medium"},"mark":"line","encoding":{"x":{"field":"x","type":"quantitative","scale":{"domain":[20,80],"nice":false},"axis":null},"y":{"field":"S10","type":"quantitative","scale":{"domain":[0,100]},"axis":null}}},
      {"data":{"name":"bars"},"transform":[{"filter":"datum.p==='S10'"},{"fold":["lo","hi"],"as":["end","v"]}],"mark":{"type":"line","strokeWidth":2.5},
       "encoding":{"x":{"datum":19.1,"type":"quantitative","scale":{"domain":[20,80],"nice":false},"axis":null},"y":{"field":"v","type":"quantitative","scale":{"domain":[0,100]},"axis":null}}},
      {"data":{"name":"labels"},"transform":[{"filter":"datum.p==='S10'"}],"mark":{"type":"text"},
       "encoding":{"x":{"datum":80.85,"type":"quantitative","scale":{"domain":[20,80],"nice":false},"axis":null},"y":{"datum":54,"type":"quantitative","scale":{"domain":[0,100]},"axis":null},"text":{"field":"p"}}}
     ]},
    {"layer":[
      {"data":{"name":"broad"},"mark":{"type":"line","strokeWidth":2.6},"encoding":{"x":{"field":"x","type":"quantitative","scale":{"domain":[20,80],"nice":false},"axis":null},"y":{"field":"S11","type":"quantitative","scale":{"domain":[0,100]},"axis":null}}},
      {"data":{"name":"bars"},"transform":[{"filter":"datum.p==='S11'"},{"fold":["lo","hi"],"as":["end","v"]}],"mark":{"type":"line","strokeWidth":2.5},
       "encoding":{"x":{"datum":19.1,"type":"quantitative","scale":{"domain":[20,80],"nice":false},"axis":null},"y":{"field":"v","type":"quantitative","scale":{"domain":[0,100]},"axis":null}}},
      {"data":{"name":"labels"},"transform":[{"filter":"datum.p==='S11'"}],"mark":{"type":"text"},
       "encoding":{"x":{"datum":80.85,"type":"quantitative","scale":{"domain":[20,80],"nice":false},"axis":null},"y":{"datum":54,"type":"quantitative","scale":{"domain":[0,100]},"axis":null},"text":{"field":"p"}}}
     ]},
    {"height":78,
     "layer":[
      {"data":{"name":"broad"},"mark":{"type":"line","strokeWidth":2.6},"encoding":{"x":{"field":"x","type":"quantitative","scale":{"domain":[20,80],"nice":false},"axis":null},"y":{"field":"S12","type":"quantitative","scale":{"domain":[0,100]},"axis":null}}},
      {"data":{"name":"bars"},"transform":[{"filter":"datum.p==='S12'"},{"fold":["lo","hi"],"as":["end","v"]}],"mark":{"type":"line","strokeWidth":2.5},
       "encoding":{"x":{"datum":19.1,"type":"quantitative","scale":{"domain":[20,80],"nice":false},"axis":null},"y":{"field":"v","type":"quantitative","scale":{"domain":[0,100]},"axis":null}}},
      {"data":{"name":"labels"},"transform":[{"filter":"datum.p==='S12'"}],"mark":{"type":"text"},
       "encoding":{"x":{"datum":80.85,"type":"quantitative","scale":{"domain":[20,80],"nice":false},"axis":null},"y":{"datum":54,"type":"quantitative","scale":{"domain":[0,100]},"axis":null},"text":{"field":"p"}}}
     ]},
    {"layer":[
      {"data":{"name":"medium"},"mark":"line","encoding":{"x":{"field":"x","type":"quantitative","scale":{"domain":[20,80],"nice":false},"axis":null},"y":{"field":"S13","type":"quantitative","scale":{"domain":[0,100]},"axis":null}}},
      {"data":{"name":"bars"},"transform":[{"filter":"datum.p==='S13'"},{"fold":["lo","hi"],"as":["end","v"]}],"mark":{"type":"line","strokeWidth":2.5},
       "encoding":{"x":{"datum":19.1,"type":"quantitative","scale":{"domain":[20,80],"nice":false},"axis":null},"y":{"field":"v","type":"quantitative","scale":{"domain":[0,100]},"axis":null}}},
      {"data":{"name":"labels"},"transform":[{"filter":"datum.p==='S13'"}],"mark":{"type":"text"},
       "encoding":{"x":{"datum":80.85,"type":"quantitative","scale":{"domain":[20,80],"nice":false},"axis":null},"y":{"datum":54,"type":"quantitative","scale":{"domain":[0,100]},"axis":null},"text":{"field":"p"}}}
     ]},
    {"layer":[
      {"data":{"name":"s14"},"mark":"line","encoding":{"x":{"field":"x","type":"quantitative","scale":{"domain":[20,80],"nice":false},"axis":null},"y":{"field":"y","type":"quantitative","scale":{"domain":[0,100]},"axis":null}}},
      {"data":{"name":"bars"},"transform":[{"filter":"datum.p==='S14'"},{"fold":["lo","hi"],"as":["end","v"]}],"mark":{"type":"line","strokeWidth":2.5},
       "encoding":{"x":{"datum":19.1,"type":"quantitative","scale":{"domain":[20,80],"nice":false},"axis":null},"y":{"field":"v","type":"quantitative","scale":{"domain":[0,100]},"axis":null}}},
      {"data":{"name":"labels"},"transform":[{"filter":"datum.p==='S14'"}],"mark":{"type":"text"},
       "encoding":{"x":{"datum":80.85,"type":"quantitative","scale":{"domain":[20,80],"nice":false},"axis":null},"y":{"datum":54,"type":"quantitative","scale":{"domain":[0,100]},"axis":null},"text":{"field":"p"}}}
     ]},
    {"layer":[
      {"data":{"name":"s15"},"mark":"line","encoding":{"x":{"field":"x","type":"quantitative","scale":{"domain":[20,80],"nice":false},"axis":null},"y":{"field":"y","type":"quantitative","scale":{"domain":[0,100]},"axis":null}}},
      {"data":{"name":"bars"},"transform":[{"filter":"datum.p==='S15'"},{"fold":["lo","hi"],"as":["end","v"]}],"mark":{"type":"line","strokeWidth":2.5},
       "encoding":{"x":{"datum":19.1,"type":"quantitative","scale":{"domain":[20,80],"nice":false},"axis":null},"y":{"field":"v","type":"quantitative","scale":{"domain":[0,100]},"axis":null}}},
      {"data":{"name":"labels"},"transform":[{"filter":"datum.p==='S15'"}],"mark":{"type":"text"},
       "encoding":{"x":{"datum":80.85,"type":"quantitative","scale":{"domain":[20,80],"nice":false},"axis":null},"y":{"datum":54,"type":"quantitative","scale":{"domain":[0,100]},"axis":null},"text":{"field":"p"}}}
     ]},
    {"height":78,
     "layer":[
      {"data":{"name":"anatase"},"mark":{"type":"rule","strokeWidth":2},
       "encoding":{"x":{"field":"x","type":"quantitative","scale":{"domain":[20,80],"nice":false},"axis":null},
                   "y":{"field":"i","type":"quantitative","scale":{"domain":[0,100]},"axis":null},"y2":{"datum":0}}},
      {"data":{"name":"labels"},"transform":[{"filter":"datum.p==='Anatase'"}],"mark":{"type":"text","fontSize":28},
       "encoding":{"x":{"datum":80.65,"type":"quantitative","scale":{"domain":[20,80],"nice":false},"axis":null},"y":{"datum":37,"type":"quantitative","scale":{"domain":[0,100]},"axis":null},"text":{"field":"p"}}}
     ]},
    {"resolve":{"axis":{"x":"independent"}},
     "layer":[
      {"data":{"name":"rutile"},"mark":{"type":"rule","strokeWidth":2},
       "encoding":{"x":{"field":"x","type":"quantitative","scale":{"domain":[20,80],"nice":false},
                        "axis":{"title":"Bragg Angle (2θ)","values":[20,25,30,35,40,45,50,55,60,65,70,75,80],"domain":false,
                                "tickSize":{"condition":{"test":"datum.value % 10 === 0","value":20},"value":9},"tickWidth":4,
                                "labelExpr":"datum.value % 10 === 0 ? datum.label : ''","labelPadding":16,"labelFlush":false,
                                "labelOverlap":false,"labelBound":false,"titlePadding":15}},
                   "y":{"field":"i","type":"quantitative","scale":{"domain":[0,100]},"axis":null},"y2":{"datum":0}}},
      {"data":{"name":"labels"},"transform":[{"filter":"datum.p==='Rutile'"}],"mark":{"type":"text","fontSize":28},
       "encoding":{"x":{"datum":80.85,"type":"quantitative","scale":{"domain":[20,80],"nice":false},"axis":null},"y":{"datum":36,"type":"quantitative","scale":{"domain":[0,100]},"axis":null},"text":{"field":"p"}}}
     ]}
  ],
  "config": {
    "font": "Liberation Serif",
    "view": {"continuousWidth": 791, "continuousHeight": 79, "stroke": "black", "strokeWidth": 4},
    "mark": {"color": "black"},
    "line": {"strokeWidth": 2.2, "strokeJoin": "round"},
    "text": {"font": "Liberation Serif", "fontSize": 50, "align": "left", "baseline": "middle"},
    "axis": {"labelFont": "Liberation Serif", "titleFont": "Liberation Serif", "labelFontSize": 44, "titleFontSize": 44,
             "titleFontWeight": "normal", "labelColor": "black", "titleColor": "black", "tickColor": "black", "grid": false}
  }
}
